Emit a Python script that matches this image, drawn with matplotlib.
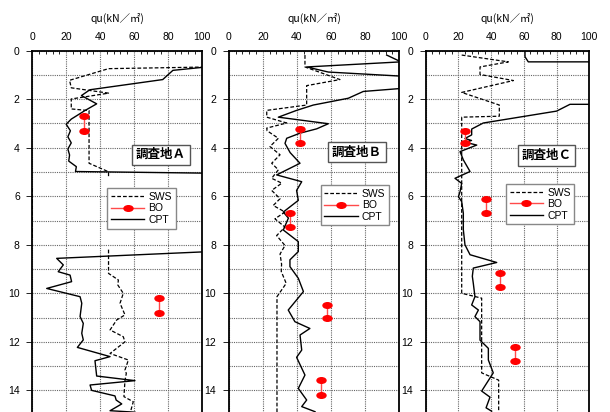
import numpy as np
import matplotlib
matplotlib.use("Agg")
import matplotlib.pyplot as plt
from matplotlib.ticker import MultipleLocator
from matplotlib.path import Path
from matplotlib.transforms import Affine2D

nan = np.nan

# ---- Data ----
site_labels = ["調査地Ａ", "調査地Ｂ", "調査地Ｃ"]
x_ticks = [0, 20, 40, 60, 80, 100]
y_ticks = [0, 2, 4, 6, 8, 10, 12, 14]

# Site A
sws_a_x = [105, 45, 22, 23, 45, 23, 23, 33.5, 33.5, 45, 45, nan, 0, 0, nan,
           45, 45, 50.8, 50.5, 53.7, 51.8, 54.7, 49.8, 45.9, 53.7, 54.7, 45.9, 56.7, 54.7, 55.5, 54.7, 54.1, 59.6, 57.7]
sws_a_d = [0.67, 0.74, 1.22, 1.53, 1.75, 1.99, 2.4, 2.47, 4.64, 4.99, 5.2, nan, 5.67, 7.73, nan,
           8.2, 9.18, 9.45, 9.66, 10.0, 10.41, 10.89, 11.1, 11.51, 11.79, 12.0, 12.48, 12.75, 13.16, 13.3, 13.6, 14.26, 14.47, 14.95]
bo_a_x = [30.7, 30.7, nan, 75.0, 75.0]
bo_a_d = [2.71, 3.33, nan, 10.18, 10.83]
cpt_a_x = [105, 100, 83, 77, 34, 29, 38, 31, 23, 20, 22.5, 21, 23, 21, 22, 21.5, 26, 25.5, 105, 105,
           14.4, 18.3, 15.3, 22.3, 23.2, 8.5, 28.2, 29.2, 28.2, 30.1, 29.2, 30.1, 26.6, 45.9, 37.0, 38.0,
           60.6, 34.1, 35.0, 48.8, 49.5, 52.8, 45.9, 60.6]
cpt_a_d = [0.68, 0.69, 0.81, 1.19, 1.61, 1.85, 2.19, 2.47, 2.82, 3.03, 3.3, 3.55, 3.8, 4.05, 4.3, 4.55, 4.78, 4.98, 5.05, 8.28,
           8.56, 8.83, 9.11, 9.25, 9.52, 9.80, 10.14, 10.41, 10.96, 11.24, 11.65, 11.92, 12.23, 12.61, 12.78, 13.41,
           13.60, 13.78, 14.0, 14.23, 14.4, 14.56, 14.84, 14.9]

# Site B
sws_b_x = [44.7, 44.7, 65.2, 45.7, 45.7, 22.3, 22.3, 34.0, 22.3, 22.5, 29.1, 24.2, 30.1, 25.2, 29.1, 25.2, 31.1, 25.2,
           30.1, 26.1, 33.0, 27.1, 33.0, 28.1, 33.0, 30.1, 31.0, 30.8, 33.7, 28.3, 28.3]
sws_b_d = [0.18, 0.67, 1.19, 1.44, 2.24, 2.46, 2.74, 2.98, 3.19, 3.3, 3.61, 3.95, 4.29, 4.64, 4.91, 5.26, 5.46, 5.76,
           6.10, 6.38, 6.65, 6.93, 7.27, 7.62, 8.03, 8.38, 8.8, 9.1, 9.59, 10.14, 15.0]
bo_b_x = [41.8, 41.8, nan, 35.9, 35.9, nan, 57.4, 57.4, nan, 54.1, 54.1]
bo_b_d = [3.24, 3.82, nan, 6.68, 7.25, nan, 10.48, 11.03, nan, 13.57, 14.19]
cpt_b_x = [92.6, 101, 45.7, 58.4, 104, 104, 78.9, 70.1, 49.6, 39.8, 29.1, 58.4, 51.6, 41.8, 34.0, 33.0, 36.0, 41.8,
           28.1, 42.8, 39.8, 40.8, 32.0, 35.0, 32.0, 40.8, 40.8, 35.9, 35.9, 40.8, 43.8, 34.9, 38.8, 47.6, 41.8,
           42.8, 39.8, 44.7, 40.8, 45.7, 42.8, 50.6]
cpt_b_d = [0.18, 0.46, 0.67, 0.88, 1.06, 1.54, 1.68, 1.96, 2.24, 2.46, 2.74, 3.01, 3.22, 3.40, 3.61, 3.82, 4.2, 4.64,
           5.12, 5.40, 5.76, 6.17, 6.65, 6.9, 7.39, 7.87, 8.28, 8.62, 8.9, 9.38, 9.93, 10.69, 11.17, 11.45, 11.72,
           12.34, 12.64, 13.37, 13.92, 14.4, 14.67, 14.88]

# Site C
sws_c_x = [22.0, 50.5, 33.2, 33.2, 53.6, 22.0, 45.0, 45.0, 22.0, 22.0, 34.2, 34.2, 44.6, 44.6]
sws_c_d = [0.18, 0.46, 0.67, 0.98, 1.23, 1.72, 2.24, 2.70, 2.74, 10.0, 10.2, 13.28, 13.58, 15.0]
bo_c_x = [24.0, 24.0, nan, 36.9, 36.9, nan, 45.4, 45.4, nan, 54.7, 54.7]
bo_c_d = [3.30, 3.80, nan, 6.13, 6.68, nan, 9.15, 9.75, nan, 12.2, 12.78]
cpt_c_x = [60.7, 60.7, 62.7, 105, 105, 88.2, 80.0, 35.2, 28.1, 28.1, 24.0, 28.0, 24.5, 31.2, 21.0, 23.0, 27.1, 17.9,
           22.0, 21.0, 20.0, 22.0, 23.0, 23.0, 24.0, 27.1, 43.4, 29.1, 28.5, 29.1, 30.1, 28.1, 32.2, 30.1, 33.2,
           33.2, 38.3, 38.3, 41.3, 34.2, 39.3, 36.9, 40.3]
cpt_c_d = [0.0, 0.25, 0.46, 0.46, 2.21, 2.21, 2.49, 2.98, 3.23, 3.47, 3.62, 3.70, 3.78, 3.89, 4.16, 4.5, 4.98, 5.26,
           5.47, 5.81, 6.02, 6.22, 6.7, 7.38, 8.0, 8.41, 8.73, 8.96, 9.3, 9.59, 10.14, 10.48, 10.69, 10.96, 11.17,
           11.93, 12.27, 12.75, 13.28, 14.03, 14.28, 14.72, 14.86]

panels = [
    dict(sws=(sws_a_x, sws_a_d), bo=(bo_a_x, bo_a_d), cpt=(cpt_a_x, cpt_a_d)),
    dict(sws=(sws_b_x, sws_b_d), bo=(bo_b_x, bo_b_d), cpt=(cpt_b_x, cpt_b_d)),
    dict(sws=(sws_c_x, sws_c_d), bo=(bo_c_x, bo_c_d), cpt=(cpt_c_x, cpt_c_d)),
]

# ---- Layout (pixel-measured) ----
W, H = 610, 412
ax_left_px = [32.3, 228.7, 425.7]
ax_width_px = [169.4, 170.6, 163.6]
top_px, bottom_px = 50.7, 414.6
legend_anchor = [(0.443, 0.622), (0.539, 0.631), (0.491, 0.634)]
label_pos = [(0.759, 0.714), (0.752, 0.722), (0.737, 0.712)]

plt.rcParams['font.family'] = ['Liberation Sans', 'Noto Sans CJK JP', 'DejaVu Sans']

fig = plt.figure(figsize=(W / 100, H / 100), dpi=100)

ell = Path.unit_circle().transformed(Affine2D().scale(1.0, 0.62))

for i, p in enumerate(panels):
    l = ax_left_px[i] / W
    w = ax_width_px[i] / W
    b = 1 - bottom_px / H
    h = (bottom_px - top_px) / H
    ax = fig.add_axes([l, b, w, h])
    ax.set_xlim(0, 100)
    ax.set_ylim(15, 0)

    ax.plot(*p['sws'], color='black', lw=0.9, ls=(0, (3, 1.6)), label='SWS', zorder=3)
    ax.plot(*p['bo'], color='#ff4a4a', lw=1.0, marker=ell, markersize=6.5,
            markerfacecolor='#ff0000', markeredgecolor='#ff0000', label='BO', zorder=4)
    ax.plot(*p['cpt'], color='black', lw=1.0, label='CPT', zorder=3)

    ax.xaxis.set_ticks_position('top')
    ax.xaxis.set_label_position('top')
    ax.set_xticks(x_ticks)
    ax.set_yticks(y_ticks)
    ax.xaxis.set_minor_locator(MultipleLocator(4))
    ax.yaxis.set_minor_locator(MultipleLocator(1))
    ax.tick_params(axis='x', which='major', direction='in', length=0, labelsize=7.5, pad=6)
    ax.tick_params(axis='x', which='minor', direction='in', length=2.5, width=0.6, top=True, bottom=False)
    ax.tick_params(axis='y', which='major', direction='out', length=4, width=0.6, labelsize=7.5, pad=5)
    ax.tick_params(axis='y', which='minor', length=0)

    ax.grid(True, which='major', axis='x', color='#666666', ls=(0, (1, 1)), lw=0.8)
    ax.grid(True, which='both', axis='y', color='#666666', ls=(0, (1, 1)), lw=0.8)
    ax.set_axisbelow(True)

    for s in ax.spines.values():
        s.set_color('black')
        s.set_linewidth(1.3)

    ax.text(0.5, 1 + (top_px - 18) / (bottom_px - top_px), 'qu(kN／㎡)', transform=ax.transAxes,
            ha='center', va='center', fontsize=7.5, family=['Noto Sans CJK JP', 'DejaVu Sans'])

    leg = ax.legend(loc='upper left', bbox_to_anchor=legend_anchor[i], fontsize=7.5,
                    frameon=True, fancybox=False, edgecolor='#888888', framealpha=1,
                    borderpad=0.35, labelspacing=0.15, handlelength=3.2, handletextpad=0.4,
                    borderaxespad=0)
    leg.get_frame().set_linewidth(1.0)

    ax.text(*label_pos[i], site_labels[i], transform=ax.transAxes, ha='center', va='center',
            fontsize=9, fontweight='bold', family=['Noto Sans CJK JP', 'DejaVu Sans'],
            bbox=dict(boxstyle='square,pad=0.3', facecolor='white', edgecolor='#555555', lw=1.0),
            zorder=5)

fig.savefig('out.png', dpi=100)
